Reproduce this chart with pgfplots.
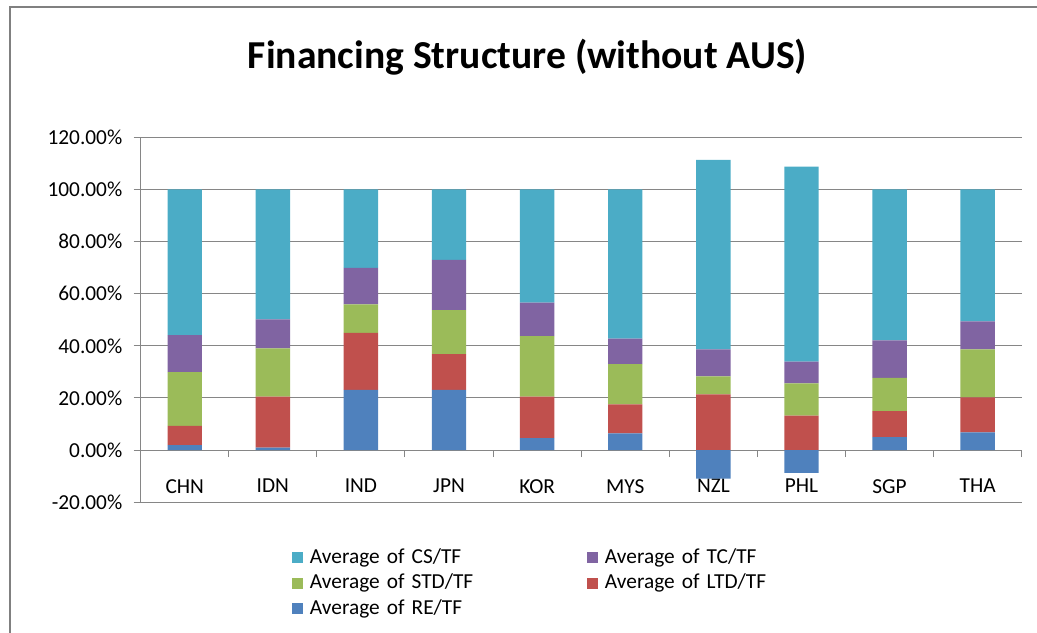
\documentclass[border=0pt]{standalone}
\usepackage{pgfplots}
\usepackage{pgfplotstable}
\pgfplotsset{compat=1.18}
\usepackage{fontspec}
\setmainfont{Carlito}
\definecolor{cCS}{HTML}{4BACC6}
\definecolor{cTC}{HTML}{8064A2}
\definecolor{cSTD}{HTML}{9BBB59}
\definecolor{cLTD}{HTML}{C0504D}
\definecolor{cRE}{HTML}{4F81BD}
\definecolor{axgray}{RGB}{134,134,134}
\definecolor{bordergray}{RGB}{128,128,128}

\pgfplotstableread{
x re ltd std tc cs
0 1.9 7.4 20.6 14.2 55.9
1 1.0 19.5 18.5 11.1 49.9
2 23.1 21.9 10.9 14.0 30.1
3 23.1 13.7 16.9 19.3 27.0
4 4.6 15.9 23.2 12.9 43.4
5 6.4 11.1 15.5 9.8 57.2
6 -10.9 21.4 6.9 10.3 72.7
7 -8.7 13.2 12.4 8.3 74.8
8 5.0 10.0 12.7 14.4 57.9
9 6.8 13.4 18.4 10.8 50.6
}\datatable

\begin{document}
\begin{tikzpicture}
\useasboundingbox (0,0) rectangle (777.75pt,-474pt);
\draw[bordergray, line width=1.5pt] (7.5pt,-480pt) -- (7.5pt,-5.25pt) -- (790pt,-5.25pt);
\node[font=\fontsize{29.7}{34}\selectfont\bfseries, anchor=base, inner sep=0pt] at (395.6pt,-51pt) {Financing Structure (without AUS)};
\begin{axis}[
  at={(105.5pt,-376.7pt)}, anchor=south west,
  scale only axis, width=660.8pt, height=273.8pt,
  ybar stacked, stack negative=separate, bar width=25.8pt,
  xmin=-0.5, xmax=9.5, ymin=-20, ymax=120,
  axis x line*=middle, axis y line*=left,
  axis line style={axgray, line width=0.75pt},
  tick align=outside,
  major tick length=5.25pt, minor tick length=5.25pt,
  xtick={0,...,9},
  xticklabels={CHN,IDN,IND,JPN,KOR,MYS,NZL,PHL,SGP,THA},
  minor xtick={-0.5,0.5,...,9.5},
  major x tick style={draw=none},
  minor x tick style={axgray, line width=0.75pt},
  ytick={-20,0,20,40,60,80,100,120},
  yticklabels={-20.00\%,0.00\%,20.00\%,40.00\%,60.00\%,80.00\%,100.00\%,120.00\%},
  ytick style={axgray, line width=0.75pt},
  ymajorgrids, grid style={axgray, line width=0.75pt},
  tick label style={font=\fontsize{16}{19}\selectfont, text=black},
  x tick label style={yshift=-13pt},
  y tick label style={xshift=-5pt},
  legend style={at={(0.17176,-0.12016)}, anchor=north west, draw=none, fill=none,
    inner sep=0pt, outer sep=0pt, row sep=0pt, column sep=0pt,
    font=\fontsize{16}{19}\selectfont,
    nodes={inner sep=0pt, anchor=base west, text height=13pt, text depth=6pt, text width=207.75pt, align=left}},
  legend columns=2, reverse legend,
  legend image code/.code={\fill[#1] (0pt,0pt) rectangle (8.25pt,8.25pt); \path (13.5pt,0pt);},
]
\addplot[fill=cRE, draw=none] table[x=x, y=re]{\datatable};
\addlegendentry{Average of RE/TF}
\addplot[fill=cLTD, draw=none] table[x=x, y=ltd]{\datatable};
\addlegendentry{Average of LTD/TF}
\addplot[fill=cSTD, draw=none] table[x=x, y=std]{\datatable};
\addlegendentry{Average of STD/TF}
\addplot[fill=cTC, draw=none] table[x=x, y=tc]{\datatable};
\addlegendentry{Average of TC/TF}
\addplot[fill=cCS, draw=none] table[x=x, y=cs]{\datatable};
\addlegendentry{Average of CS/TF}
\end{axis}
\end{tikzpicture}
\end{document}
